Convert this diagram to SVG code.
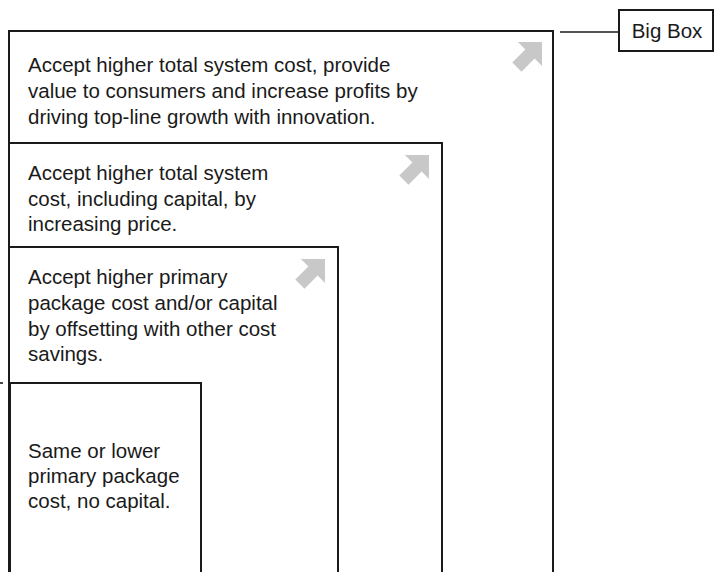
<svg xmlns="http://www.w3.org/2000/svg" width="714" height="572" viewBox="0 0 714 572">
  <defs>
    <style>
      .frame { fill: none; stroke: #1a1a1a; stroke-width: 2; }
      .label { font-family: "Liberation Sans", Arial, sans-serif; font-size: 20.5px; fill: #1a1a1a; }
      .arrow { fill: #c8c8c8; }
      .link { stroke: #1a1a1a; stroke-width: 1.6; fill: none; }
    </style>
    <!-- block arrow pointing up-right, tip at origin -->
    <path id="upArrow" class="arrow" d="M0,0 L-17,-17 L-17,-6.5 L-35.5,-6.5 L-35.5,6.5 L-17,6.5 L-17,17 Z" transform="rotate(-45)"/>
  </defs>

  <rect width="714" height="572" fill="#ffffff"/>

  <g id="level-innovation">
    <path class="frame" d="M9,580 V31 H553 V580"/>
    <use href="#upArrow" transform="translate(542,42)"/>
    <text class="label" x="28" y="72">Accept higher total system cost, provide</text>
    <text class="label" x="28" y="98">value to consumers and increase profits by</text>
    <text class="label" x="28" y="124">driving top-line growth with innovation.</text>
  </g>

  <g id="level-price">
    <path class="frame" d="M9,580 V143 H442 V580"/>
    <use href="#upArrow" transform="translate(429,155)"/>
    <text class="label" x="28" y="180">Accept higher total system</text>
    <text class="label" x="28" y="206">cost, including capital, by</text>
    <text class="label" x="28" y="231">increasing price.</text>
  </g>

  <g id="level-offset">
    <path class="frame" d="M9,580 V247 H338 V580"/>
    <use href="#upArrow" transform="translate(325,259)"/>
    <text class="label" x="28" y="284">Accept higher primary</text>
    <text class="label" x="28" y="310">package cost and/or capital</text>
    <text class="label" x="28" y="336">by offsetting with other cost</text>
    <text class="label" x="28" y="361">savings.</text>
  </g>

  <g id="level-base">
    <path class="frame" d="M10,580 V383 H201 V580"/>
    <text class="label" x="28" y="458">Same or lower</text>
    <text class="label" x="28" y="483">primary package</text>
    <text class="label" x="28" y="508">cost, no capital.</text>
  </g>

  <g id="big-box-label">
    <rect class="frame" x="619" y="10" width="94" height="41" stroke-width="1.6"/>
    <text class="label" x="667" y="38" text-anchor="middle">Big Box</text>
  </g>

  <g id="connectors">
    <line class="link" x1="560" y1="32" x2="619" y2="32"/>
    <line class="link" x1="0" y1="383" x2="3" y2="383"/>
  </g>
</svg>
